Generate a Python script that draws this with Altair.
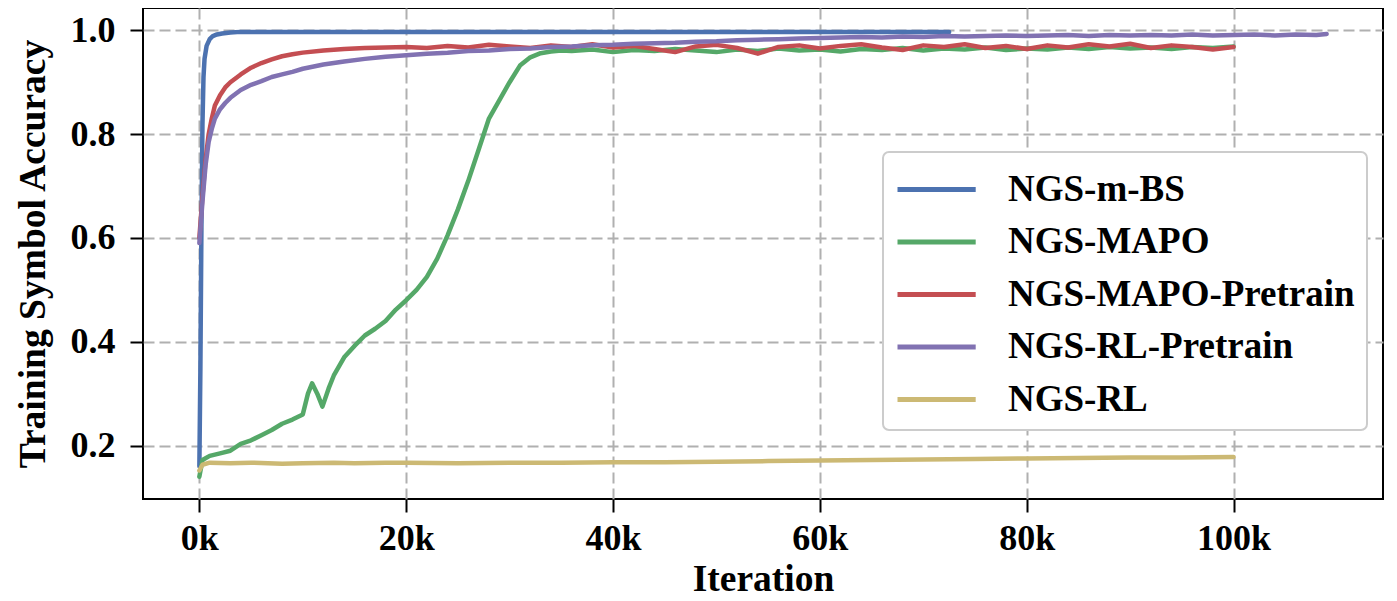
import altair as alt
import pandas as pd

SERIES = ["NGS-m-BS", "NGS-MAPO", "NGS-MAPO-Pretrain", "NGS-RL-Pretrain", "NGS-RL"]
COLORS = ["#4C72B0", "#55A868", "#C44E52", "#8172B2", "#CCB974"]

# NGS-m-BS (iterations in thousands)
blue_x = [0, 0.1, 0.2, 0.3, 0.4, 0.5, 0.7, 1.0, 1.3, 1.7, 2.2, 3, 4, 6, 10, 20, 30, 40, 50, 60, 72.5]
blue_y = [0.16, 0.35, 0.62, 0.82, 0.91, 0.945, 0.97, 0.983, 0.989, 0.992, 0.994, 0.996, 0.997, 0.997, 0.997,
          0.997, 0.997, 0.997, 0.997, 0.997, 0.997]

# NGS-MAPO
green_x = [0, 0.3, 1, 2, 3, 4, 5, 6, 7, 8, 9, 10, 10.5, 10.9, 11.4, 11.9, 12.5, 13, 14, 15, 16, 17, 18, 19,
           20, 21, 22, 23, 24, 25, 26, 27, 28, 29, 30, 31, 32, 33, 34, 35,
           36, 38, 40, 42, 44, 46, 48, 50, 52, 54, 56, 58, 60, 62, 64, 66, 68, 70, 72, 74, 76, 78, 80,
           82, 84, 86, 88, 90, 92, 94, 96, 98, 100]
green_y = [0.14, 0.172, 0.18, 0.185, 0.19, 0.203, 0.21, 0.22, 0.23, 0.242, 0.25, 0.26, 0.30, 0.32, 0.30, 0.275,
           0.31, 0.335, 0.37, 0.392, 0.412, 0.425, 0.44, 0.462, 0.48, 0.50, 0.525, 0.56, 0.605, 0.655, 0.71,
           0.77, 0.83, 0.865, 0.90, 0.932, 0.948, 0.956, 0.959, 0.961,
           0.960, 0.963, 0.958, 0.962, 0.960, 0.964, 0.961, 0.958, 0.963, 0.960, 0.965, 0.961, 0.963, 0.959,
           0.964, 0.962, 0.966, 0.961, 0.965, 0.963, 0.967, 0.962, 0.965, 0.963, 0.967, 0.964, 0.968, 0.965,
           0.967, 0.964, 0.968, 0.966, 0.969]

# NGS-MAPO-Pretrain
red_x = [0, 0.3, 0.6, 0.9, 1.2, 1.5, 2, 2.5, 3, 4, 5, 6, 7, 8, 9, 10, 12, 14, 16, 18, 20,
         22, 24, 26, 28, 30, 32, 34, 36, 38, 40, 42, 44, 46, 48, 50, 52, 54, 56, 58, 60,
         62, 64, 66, 68, 70, 72, 74, 76, 78, 80, 82, 84, 86, 88, 90, 92, 94, 96, 98, 100]
red_y = [0.60, 0.68, 0.75, 0.80, 0.83, 0.855, 0.875, 0.89, 0.90, 0.915, 0.928, 0.937, 0.944, 0.95, 0.954,
         0.957, 0.961, 0.964, 0.966, 0.967, 0.968,
         0.966, 0.970, 0.967, 0.972, 0.969, 0.966, 0.971, 0.968, 0.973, 0.967, 0.970, 0.964, 0.958, 0.969,
         0.972, 0.966, 0.955, 0.968, 0.971, 0.965, 0.970, 0.973, 0.967, 0.962, 0.971, 0.968, 0.973, 0.966,
         0.970, 0.964, 0.971, 0.967, 0.973, 0.969, 0.974, 0.966, 0.971, 0.968, 0.963, 0.968]

# NGS-RL-Pretrain
purple_x = [0, 0.3, 0.6, 0.9, 1.2, 1.5, 2, 2.5, 3, 4, 5, 6, 7, 8, 9, 10, 12, 14, 16, 18, 20,
            22, 24, 26, 28, 30, 32, 34, 36, 38, 40, 42, 44, 46, 48, 50, 52, 54, 56, 58, 60,
            62, 64, 66, 68, 70, 72, 74, 76, 78, 80, 82, 84, 86, 88, 90, 92, 94, 96, 98, 100,
            102, 104, 106, 108, 109]
purple_y = [0.59, 0.67, 0.74, 0.785, 0.81, 0.83, 0.848, 0.86, 0.87, 0.885, 0.895, 0.902, 0.91, 0.915, 0.92,
            0.926, 0.934, 0.94, 0.945, 0.949, 0.952,
            0.955, 0.957, 0.960, 0.961, 0.964, 0.965, 0.968, 0.969, 0.971, 0.972, 0.974, 0.975, 0.976, 0.978,
            0.979, 0.981, 0.982, 0.983, 0.984, 0.985, 0.986, 0.987, 0.986, 0.988, 0.987, 0.989, 0.988, 0.989,
            0.990, 0.989, 0.990, 0.991, 0.989, 0.991, 0.990, 0.991, 0.990, 0.992, 0.990, 0.991,
            0.992, 0.990, 0.992, 0.991, 0.993]

# NGS-RL
yellow_x = [0, 0.3, 1, 3, 5, 8, 10, 13, 15, 18, 20, 25, 30, 35, 40, 45, 50, 55, 60, 65, 70, 75, 80, 85, 90, 95, 100]
yellow_y = [0.152, 0.163, 0.167, 0.166, 0.167, 0.165, 0.166, 0.167, 0.166, 0.167, 0.167, 0.166, 0.167, 0.167,
            0.168, 0.168, 0.169, 0.170, 0.171, 0.172, 0.173, 0.174, 0.175, 0.176, 0.177, 0.177, 0.178]

X_TICKS = [0, 20, 40, 60, 80, 100]
Y_TICKS = [0.2, 0.4, 0.6, 0.8, 1.0]

rows = []
for name, xs, ys in [(SERIES[0], blue_x, blue_y), (SERIES[1], green_x, green_y), (SERIES[2], red_x, red_y),
                     (SERIES[3], purple_x, purple_y), (SERIES[4], yellow_x, yellow_y)]:
    for i, (a, b) in enumerate(zip(xs, ys)):
        rows.append({"series": name, "it": a, "acc": b, "idx": i})
df = pd.DataFrame(rows)

FONT = "Liberation Serif"

chart = alt.Chart(df).mark_line(strokeWidth=4.5, strokeJoin="round", strokeCap="round").encode(
    x=alt.X("it:Q", title="Iteration",
            scale=alt.Scale(domain=[-5.45, 114.45], nice=False, zero=False),
            axis=alt.Axis(values=X_TICKS, labelExpr="datum.value + 'k'")),
    y=alt.Y("acc:Q", title="Training Symbol Accuracy",
            scale=alt.Scale(domain=[0.097, 1.043], nice=False, zero=False),
            axis=alt.Axis(values=Y_TICKS, format=".1f")),
    color=alt.Color("series:N", scale=alt.Scale(domain=SERIES, range=COLORS),
                    legend=alt.Legend(title=None, orient="none", legendX=740, legendY=144)),
    detail="series:N",
    order="idx:Q",
).properties(
    width=1240, height=491,
    autosize=alt.AutoSizeParams(type="none"),
    padding={"left": 135, "top": 0, "right": 6, "bottom": 100},
).configure_view(
    stroke="black", strokeWidth=2
).configure_axis(
    labelFont=FONT, labelFontWeight="bold", labelFontSize=36, labelColor="black",
    titleFont=FONT, titleFontWeight="bold", titleFontSize=37.5, titleColor="black",
    grid=True, gridColor="#b0b0b0", gridDash=[11, 5], gridWidth=2,
    domain=False, tickColor="black", tickWidth=2, tickSize=13,
).configure_axisX(
    labelPadding=9, titlePadding=4,
).configure_axisY(
    labelPadding=15, titlePadding=18,
).configure_legend(
    labelFont=FONT, labelFontWeight="bold", labelFontSize=37, labelColor="black",
    symbolType="M-1.0,0L2.4,0", symbolSize=2116, symbolStrokeWidth=5,
    labelOffset=62, padding=12, rowPadding=8.5,
    strokeColor="#cccccc", fillColor="white", cornerRadius=6, strokeWidth=2,
    labelLimit=600,
)

chart.save("out.html", embed_options={"renderer": "svg", "actions": False})
